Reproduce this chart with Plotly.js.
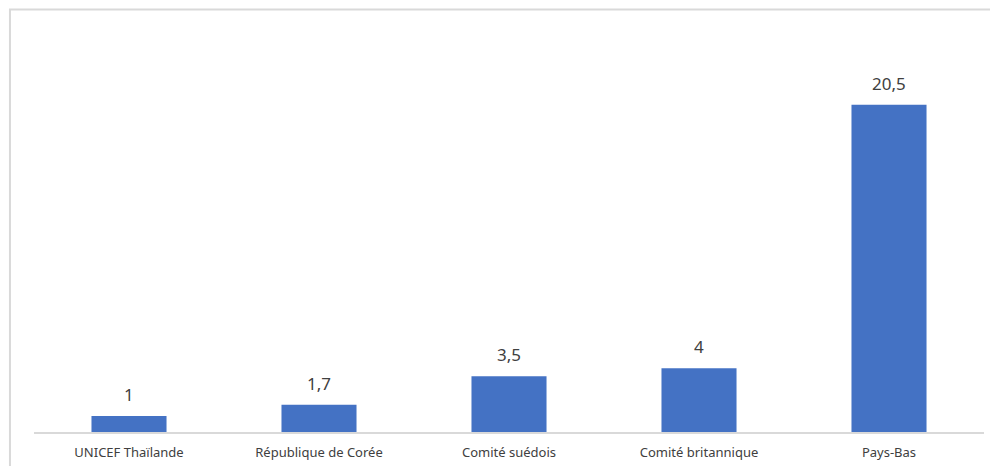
<!DOCTYPE html>
<html>
<head>
<meta charset="utf-8">
<script src="https://cdn.plot.ly/plotly-3.0.1.min.js"></script>
<style>
html,body{margin:0;padding:0;background:#fff;}
#chart{width:990px;height:466px;}
</style>
</head>
<body>
<div id="chart"></div>
<script>
const categories = ["UNICEF Thaïlande", "République de Corée", "Comité suédois", "Comité britannique", "Pays-Bas"];
const values = [1, 1.7, 3.5, 4, 20.5];
const valueLabels = ["1", "1,7", "3,5", "4", "20,5"];

const trace = {
  type: 'bar',
  x: categories,
  y: values,
  marker: {color: '#4472C4'},
  hoverinfo: 'none'
};

const annotations = categories.map((c, i) => ({
  x: c, y: values[i], xref: 'x', yref: 'y',
  text: valueLabels[i], showarrow: false,
  yanchor: 'bottom', yshift: 8,
  font: {family: 'Noto Sans, Open Sans, sans-serif', size: 17, color: '#404040'}
}));

const layout = {
  width: 990, height: 466,
  margin: {l: 34, r: 6, t: 49, b: 34},
  paper_bgcolor: '#fff', plot_bgcolor: '#fff',
  bargap: 0.605,
  showlegend: false,
  font: {family: 'Noto Sans, Open Sans, sans-serif', color: '#404040'},
  xaxis: {
    showline: true, linecolor: '#d9d9d9', linewidth: 1.5,
    ticks: '', tickfont: {size: 13, color: '#404040'},
    ticklabelstandoff: 8,
    fixedrange: true
  },
  yaxis: {
    range: [0, 24], visible: false, showgrid: false, zeroline: false, fixedrange: true
  },
  annotations: annotations,
  shapes: [{
    type: 'path', xref: 'paper', yref: 'paper',
    path: 'M -0.0253,-0.2 L -0.0253,1.1031 L 1.2,1.1031',
    line: {color: '#d9d9d9', width: 2}
  }]
};

Plotly.newPlot('chart', [trace], layout, {displayModeBar: false, staticPlot: true});
</script>
</body>
</html>
